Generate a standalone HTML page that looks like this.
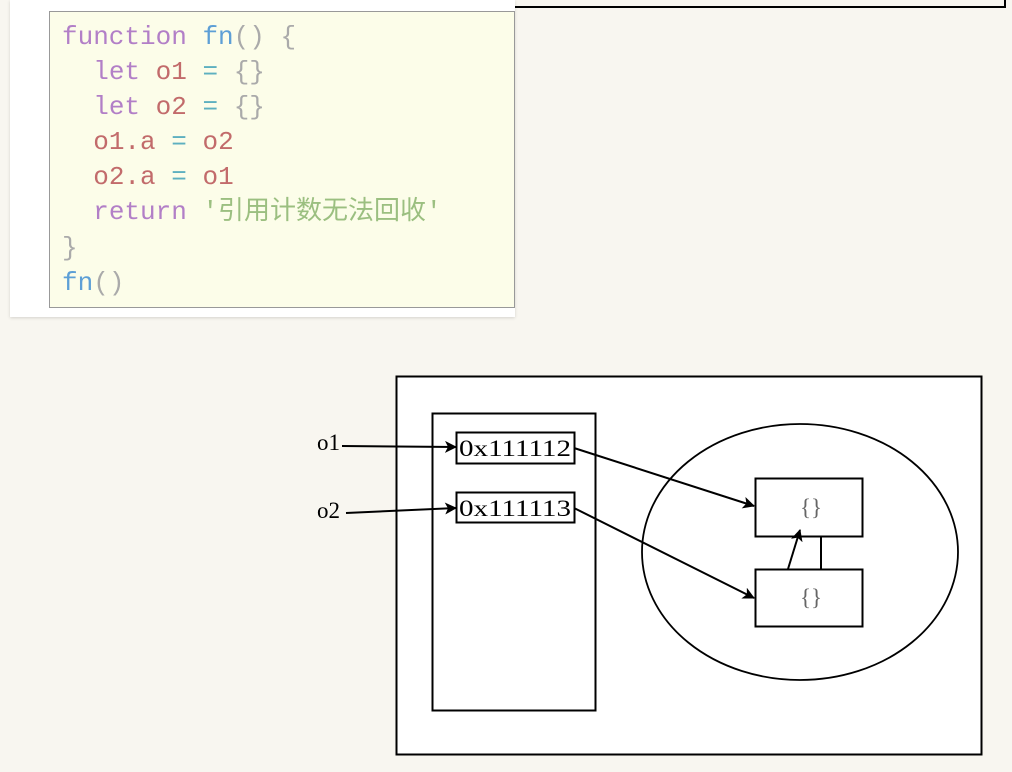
<!DOCTYPE html>
<html><head><meta charset="utf-8"><style>
body{margin:0;width:1012px;height:772px;background:#f8f6f0;position:relative;overflow:hidden}
.panel{position:absolute;left:10px;top:0;width:505px;height:317px;background:#fff;box-shadow:0 1px 3px rgba(0,0,0,.15)}
.code{position:absolute;left:49px;top:11px;width:466px;height:297px;background:#fcfde9;border:1px solid #999;box-sizing:border-box}
pre{margin:0;position:absolute;left:12px;top:8px;font:26px/35.1px "Liberation Mono","Noto Sans CJK SC",monospace;color:#999}
.k{color:#b27fc7}.f{color:#5d9fd6}.v{color:#c26b6b}.o{color:#5db0c0}.s{color:#9bbf80}.p{color:#aaa}
</style></head><body>
<div class="panel"></div>
<div class="code"><pre><span class="k">function</span> <span class="f">fn</span><span class="p">() {</span>
  <span class="k">let</span> <span class="v">o1</span> <span class="o">=</span> <span class="p">{}</span>
  <span class="k">let</span> <span class="v">o2</span> <span class="o">=</span> <span class="p">{}</span>
  <span class="v">o1.a</span> <span class="o">=</span> <span class="v">o2</span>
  <span class="v">o2.a</span> <span class="o">=</span> <span class="v">o1</span>
  <span class="k">return</span> <span class="s">'引用计数无法回收'</span>
<span class="p">}</span>
<span class="f">fn</span><span class="p">()</span></pre></div>
<svg width="1012" height="772" style="position:absolute;left:0;top:0" font-family="Liberation Serif, serif">
<defs><marker id="a" markerWidth="12" markerHeight="12" refX="11" refY="6" orient="auto" markerUnits="userSpaceOnUse"><path d="M0,0 L12,6 L0,12 L3,6z" fill="#000"/></marker></defs>
<path d="M515,7 H1005 V0" fill="none" stroke="#000" stroke-width="2"/>
<rect x="396.5" y="376.5" width="585" height="378" fill="#fff" stroke="#000" stroke-width="2"/>
<rect x="432.5" y="413.5" width="163" height="297" fill="#fff" stroke="#000" stroke-width="2"/>
<rect x="456.5" y="432.5" width="118" height="31" fill="#fff" stroke="#000" stroke-width="2"/>
<rect x="456.5" y="492.5" width="118" height="30" fill="#fff" stroke="#000" stroke-width="2"/>
<text x="459" y="456" font-size="23" textLength="112" lengthAdjust="spacingAndGlyphs">0x111112</text>
<text x="459" y="516" font-size="23" textLength="112" lengthAdjust="spacingAndGlyphs">0x111113</text>
<text x="317" y="450" font-size="23">o1</text>
<text x="317" y="518" font-size="23">o2</text>
<ellipse cx="800" cy="552" rx="158" ry="128" fill="#fff" stroke="#000" stroke-width="1.8"/>
<rect x="755.5" y="478.5" width="107" height="58" fill="#fff" stroke="#000" stroke-width="2"/>
<rect x="755.5" y="569.5" width="107" height="57" fill="#fff" stroke="#000" stroke-width="2"/>
<text x="800" y="515" font-size="23" fill="#666">{}</text>
<text x="800" y="605" font-size="23" fill="#666">{}</text>
<g stroke="#000" stroke-width="2" fill="none" marker-end="url(#a)">
<line x1="342" y1="446" x2="456" y2="447"/>
<line x1="346" y1="513" x2="456" y2="508"/>
<line x1="574" y1="448" x2="754" y2="506"/>
<line x1="574" y1="508" x2="754" y2="598"/>
<line x1="788" y1="569" x2="800" y2="530"/>
</g>
<line x1="821" y1="537" x2="821" y2="569" stroke="#000" stroke-width="2"/>
</svg>
</body></html>
